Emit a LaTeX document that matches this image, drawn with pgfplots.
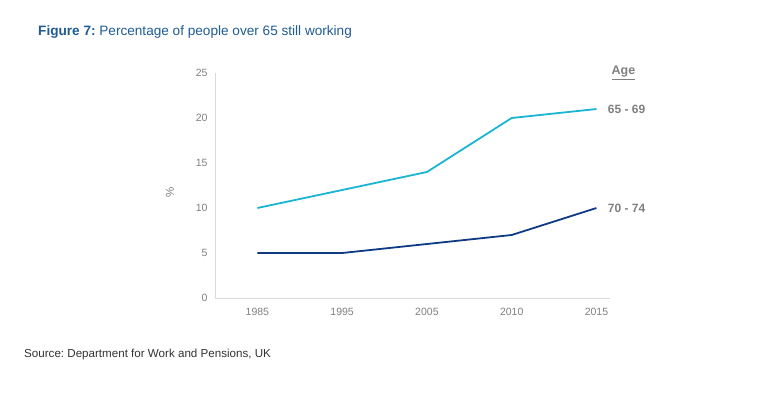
\documentclass[border=0pt]{standalone}
\usepackage{pgfplots}
\pgfplotsset{compat=1.18}
\usepackage{fontspec}
\setmainfont{Liberation Sans}
\definecolor{titleblue}{HTML}{1F5B94}
\definecolor{lightline}{HTML}{1BB5D3}
\definecolor{darkline}{HTML}{0E3B83}
\definecolor{txtgrey}{HTML}{7F7F7F}
\definecolor{axgrey}{HTML}{D9D9D9}
\begin{document}
\begin{tikzpicture}[x=1pt,y=1pt]
\useasboundingbox (0,0) rectangle (783,392);
\node[anchor=base west,inner sep=0pt,font=\fontsize{13.6}{15}\selectfont,text=titleblue] at (38,356) {\textbf{Figure 7:}~Percentage of people over 65 still working};
\node[anchor=base west,inner sep=0pt,font=\fontsize{11.6}{13}\selectfont,text=black!80] at (24,35) {Source:~Department for Work and Pensions, UK};
\begin{axis}[
  at={(215pt,94pt)}, anchor=south west,
  scale only axis, width=395pt, height=225pt,
  xmin=-0.5, xmax=4.16, ymin=0, ymax=25,
  axis x line=bottom, axis y line=left,
  axis line style={draw=axgrey, -},
  xtick={0,1,2,3,4}, xticklabels={1985,1995,2005,2010,2015},
  ytick={0,5,10,15,20,25},
  major tick length=0pt,
  tick label style={font=\fontsize{10.5}{12}\selectfont, text=txtgrey},
  /pgf/number format/assume math mode=true,
  xticklabel style={yshift=-7pt},
  yticklabel style={xshift=-4pt},
  ylabel={\%}, ylabel style={font=\fontsize{11.5}{13}\selectfont, text=txtgrey, at={(axis description cs:-0.095,0.47)}},
  clip=false,
]
\addplot[color=lightline, line width=1.8pt] coordinates {(0,10) (1,12) (2,14) (3,20) (4,21)};
\addplot[color=darkline, line width=1.8pt] coordinates {(0,5) (1,5) (2,6) (3,7) (4,10)};
\node[anchor=west, font=\bfseries\fontsize{12}{14}\selectfont, text=txtgrey] at (axis cs:4,21) [xshift=8pt] {65 - 69};
\node[anchor=west, font=\bfseries\fontsize{12}{14}\selectfont, text=txtgrey] at (axis cs:4,10) [xshift=8pt] {70 - 74};
\node[font=\bfseries\fontsize{12.5}{14}\selectfont, text=txtgrey] at (axis cs:4,25) [xshift=27pt] {\underline{Age}};
\end{axis}
\end{tikzpicture}
\end{document}
